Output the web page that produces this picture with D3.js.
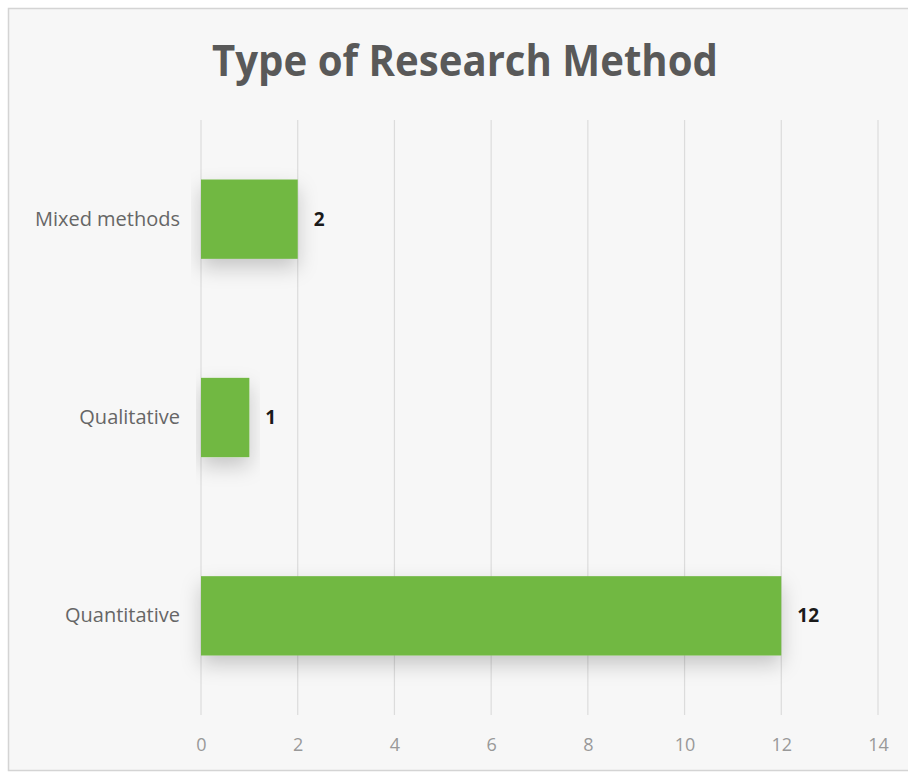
<!DOCTYPE html>
<html>
<head>
<meta charset="utf-8">
<script src="https://cdn.jsdelivr.net/npm/d3@7"></script>
<style>
  body { margin: 0; background: #fff; }
  svg { display: block; }
</style>
</head>
<body>
<svg id="chart" width="908" height="774"></svg>
<script>
// data
var categories = ["Mixed methods", "Qualitative", "Quantitative"];
var counts = [2, 1, 12];
var xTicks = [0, 2, 4, 6, 8, 10, 12, 14];
var title = "Type of Research Method";

var svg = d3.select("#chart"),
    width = +svg.attr("width"),
    height = +svg.attr("height");

var margin = {left: 201, right: 30, top: 120, bottom: 59};

// drop shadow for bars
var defs = svg.append("defs");
var f = defs.append("filter").attr("id", "shadow")
    .attr("x", "-10%").attr("y", "-40%").attr("width", "130%").attr("height", "200%");
f.append("feDropShadow")
    .attr("dx", 0).attr("dy", 9)
    .attr("stdDeviation", 10)
    .attr("flood-color", "#000")
    .attr("flood-opacity", 0.2);

// chart area background + border
svg.append("rect")
    .attr("x", 8.5).attr("y", 8.5)
    .attr("width", width + 10).attr("height", 762)
    .attr("fill", "#f7f7f7")
    .attr("stroke", "#d4d4d4")
    .attr("stroke-width", 1.5);

var x = d3.scaleLinear()
    .domain([0, 14])
    .range([margin.left, 878]);

var y = d3.scaleBand()
    .domain(categories)
    .range([margin.top, 715])
    .paddingInner(0.6)
    .paddingOuter(0.3);

// gridlines
svg.append("g")
  .selectAll("line")
  .data(xTicks)
  .enter().append("line")
    .attr("x1", function(d) { return x(d); })
    .attr("x2", function(d) { return x(d); })
    .attr("y1", margin.top)
    .attr("y2", 715)
    .attr("stroke", "#dcdcdc")
    .attr("stroke-width", 1.2);

// title
svg.append("text")
    .attr("x", 465)
    .attr("y", 76)
    .attr("text-anchor", "middle")
    .attr("font-family", "'Open Sans', sans-serif")
    .attr("font-weight", "bold")
    .attr("font-size", 43)
    .attr("textLength", 506)
    .attr("lengthAdjust", "spacingAndGlyphs")
    .attr("fill", "#595959")
    .text(title);

// bars
svg.append("g")
  .selectAll("rect")
  .data(counts)
  .enter().append("rect")
    .attr("x", x(0))
    .attr("y", function(d, i) { return y(categories[i]); })
    .attr("width", function(d) { return x(d) - x(0); })
    .attr("height", y.bandwidth())
    .attr("fill", "#71b843")
    .attr("filter", "url(#shadow)");

// value labels
svg.append("g")
  .selectAll("text")
  .data(counts)
  .enter().append("text")
    .attr("x", function(d) { return x(d) + 16; })
    .attr("y", function(d, i) { return y(categories[i]) + y.bandwidth() / 2; })
    .attr("dy", "0.35em")
    .attr("font-family", "'Open Sans', sans-serif")
    .attr("font-weight", "bold")
    .attr("font-size", 19)
    .attr("fill", "#1a1a1a")
    .text(function(d) { return d; });

// y axis labels
var yAxis = d3.axisLeft(y).tickSize(0).tickPadding(21);
svg.append("g")
    .attr("transform", "translate(" + margin.left + ",0)")
    .call(yAxis)
    .call(function(g) { g.select(".domain").remove(); })
    .selectAll("text")
    .attr("font-family", "'Open Sans', sans-serif")
    .attr("font-size", 20)
    .attr("fill", "#666666");

// x axis labels
var xAxis = d3.axisBottom(x).tickValues(xTicks).tickSize(0).tickPadding(23);
svg.append("g")
    .attr("transform", "translate(0,715)")
    .call(xAxis)
    .call(function(g) { g.select(".domain").remove(); })
    .selectAll("text")
    .attr("font-family", "'Open Sans', sans-serif")
    .attr("font-size", 18)
    .attr("fill", "#999999");
</script>
</body>
</html>
